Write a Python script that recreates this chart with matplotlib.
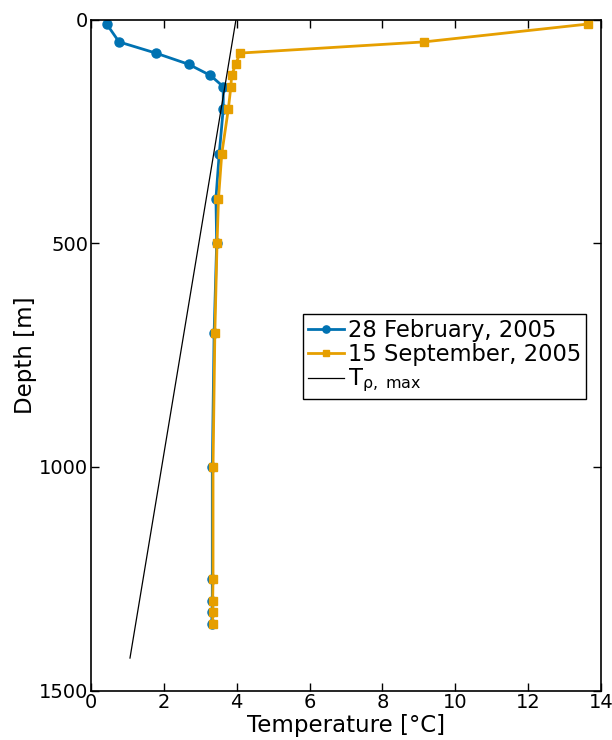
import numpy as np
import matplotlib
matplotlib.use('Agg')
import matplotlib.pyplot as plt

# February 2005 profile
feb_depth = [10, 50, 75, 100, 125, 150, 200, 300, 400, 500, 700, 1000, 1250, 1300, 1325, 1350]
feb_temp = [0.43, 0.77, 1.78, 2.68, 3.28, 3.63, 3.63, 3.52, 3.43, 3.45, 3.38, 3.33, 3.33, 3.33, 3.33, 3.31]

# September 2005 profile
sep_depth = [10, 50, 75, 100, 125, 150, 200, 300, 400, 500, 700, 1000, 1250, 1300, 1325, 1350]
sep_temp = [13.65, 9.14, 4.09, 3.97, 3.86, 3.84, 3.77, 3.59, 3.50, 3.46, 3.40, 3.35, 3.35, 3.34, 3.34, 3.34]

# temperature of maximum density
tmd_depth = [0, 1427]
tmd_temp = [3.98, 1.07]

blue = '#0072B2'
orange = '#E69F00'

fig = plt.figure(figsize=(6.12, 7.4), dpi=100)
ax = fig.add_subplot(111)
fig.subplots_adjust(left=0.1487, right=0.982, top=0.9736, bottom=0.0666)

ax.plot(feb_temp, feb_depth, '-o', color=blue, lw=2, ms=6.5, label='28 February, 2005')
ax.plot(sep_temp, sep_depth, '-s', color=orange, lw=2, ms=6, label='15 September, 2005')
ax.plot(tmd_temp, tmd_depth, '-', color='black', lw=0.9, label=r'T$_{\mathrm{ρ,\ max}}$')

ax.set_xlim(0, 14)
ax.set_ylim(1500, 0)
ax.set_xticks(np.arange(0, 15, 2))
ax.set_yticks([0, 500, 1000, 1500])
ax.tick_params(direction='in', length=6, width=1, top=True, right=True, labelsize=14, pad=2)
for s in ax.spines.values():
    s.set_linewidth(1.2)

ax.set_xlabel('Temperature [°C]', fontsize=16.5, labelpad=1)
ax.set_ylabel('Depth [m]', fontsize=16.5, labelpad=1)

leg = ax.legend(loc='lower left', bbox_to_anchor=(0.4157, 0.4346), borderaxespad=0,
                fontsize=16.3, fancybox=False, framealpha=1, edgecolor='black',
                handlelength=1.6, handletextpad=0.2, labelspacing=0.05, borderpad=0.2,
                markerscale=0.8)
leg.get_frame().set_linewidth(1.0)

fig.savefig('out.png', dpi=100)
